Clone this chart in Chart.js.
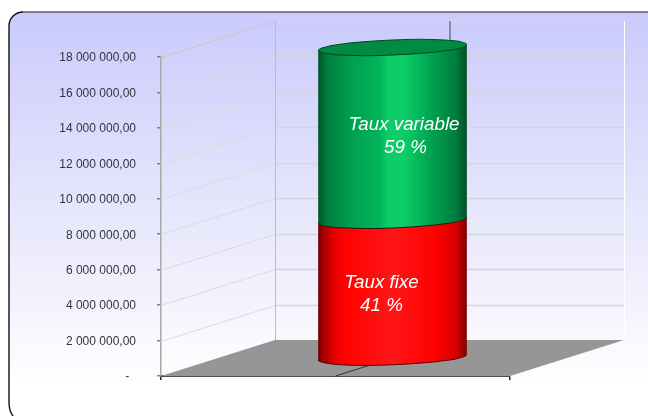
<!DOCTYPE html>
<html>
<head>
<meta charset="utf-8">
<style>html,body{margin:0;padding:0;background:#fff;overflow:hidden}canvas{display:block}</style>
<script src="https://cdn.jsdelivr.net/npm/chart.js@4"></script>
</head>
<body>
<canvas id="c" width="648" height="416"></canvas>
<script>
const categories = [""];
const tauxFixe = [7760000];
const tauxVariable = [9760000];
const yTicks = [0, 2000000, 4000000, 6000000, 8000000, 10000000, 12000000, 14000000, 16000000, 18000000];
const yTickLabels = ["-  ", "2 000 000,00", "4 000 000,00", "6 000 000,00", "8 000 000,00", "10 000 000,00", "12 000 000,00", "14 000 000,00", "16 000 000,00", "18 000 000,00"];
const labelFixe = ["Taux fixe", "41 %"];
const labelVariable = ["Taux variable", "59 %"];

const DX = 114, DY = -36, BAR_W = 148, RY = 7.6, SHEAR = -0.0385;

function barGradient(chart, stops) {
  const a = chart.chartArea;
  if (!a) return stops[0][1];
  const cx = (a.left + a.right) / 2;
  const g = chart.ctx.createLinearGradient(cx - BAR_W / 2, 0, cx + BAR_W / 2, 0);
  stops.forEach(s => g.addColorStop(s[0], s[1]));
  return g;
}
const redStops = [[0, "#700000"], [0.03, "#a40000"], [0.1, "#e20000"], [0.18, "#ff0000"], [0.5, "#ff1616"], [0.8, "#ff0000"], [0.93, "#d80000"], [1, "#800000"]];
const greenStops = [[0, "#00562b"], [0.05, "#007a3c"], [0.22, "#00a050"], [0.41, "#02b45a"], [0.47, "#0ccd68"], [0.58, "#0ccd68"], [0.75, "#00a552"], [0.93, "#007c3e"], [1, "#004f28"]];

const scene = {
  id: "scene",
  beforeDraw(chart) {
    const c = chart.ctx;
    c.save();
    c.fillStyle = "#fff";
    c.fillRect(0, 0, 648, 416);
    const g = c.createLinearGradient(0, 12, 0, 380);
    g.addColorStop(0, "#cacafc");
    g.addColorStop(0.5, "#e4e4fc");
    g.addColorStop(0.98, "#fdfdff");
    g.addColorStop(1, "#ffffff");
    c.beginPath();
    c.roundRect(9, 12, 700, 406, 14);
    c.fillStyle = g;
    c.fill();
    c.beginPath();
    c.moveTo(23, 12);
    c.lineTo(648, 12);
    c.strokeStyle = "#5f5f72";
    c.lineWidth = 1.6;
    c.stroke();
    c.beginPath();
    c.moveTo(13, 416);
    c.quadraticCurveTo(9, 411, 9, 402);
    c.lineTo(9, 26);
    c.arcTo(9, 12, 23, 12, 14);
    c.strokeStyle = "#111";
    c.lineWidth = 1.4;
    c.stroke();
    c.restore();
  },
  beforeDatasetsDraw(chart) {
    const c = chart.ctx, a = chart.chartArea, y = chart.scales.y;
    const L = a.left, R = a.right, B = a.bottom;
    c.save();
    c.fillStyle = "#969696";
    c.beginPath();
    c.moveTo(L, B); c.lineTo(L + DX, B + DY); c.lineTo(R + DX, B + DY); c.lineTo(R, B);
    c.closePath(); c.fill();
    yTicks.forEach((v, i) => {
      if (v === 0) return;
      const p = Math.round(y.getPixelForValue(v)) + 0.5;
      c.strokeStyle = i === yTicks.length - 1 ? "#c8c8bc" : "#dcdcd4";
      c.lineWidth = 1;
      c.beginPath(); c.moveTo(L, p); c.lineTo(L + DX, p + DY); c.stroke();
      c.strokeStyle = "#d6d6d6";
      c.lineWidth = 1.4;
      c.beginPath(); c.moveTo(L + DX, p + DY); c.lineTo(R + DX, p + DY); c.stroke();
    });
    c.lineWidth = 1;
    c.strokeStyle = "#bcbcbc";
    c.beginPath(); c.moveTo(L + DX + 0.5, a.top + DY); c.lineTo(L + DX + 0.5, B + DY); c.stroke();
    c.strokeStyle = "#ffffff";
    c.beginPath(); c.moveTo(R + DX + 0.5, a.top + DY); c.lineTo(R + DX + 0.5, B + DY); c.stroke();
    const mid = (L + R) / 2;
    c.strokeStyle = "#44445a";
    c.beginPath(); c.moveTo(mid + DX + 0.5, a.top + DY); c.lineTo(mid + DX + 0.5, B + DY); c.stroke();
    c.strokeStyle = "#333";
    c.beginPath(); c.moveTo(mid, B); c.lineTo(mid + DX, B + DY); c.stroke();
    c.restore();
    c.save();
    c.translate(DX / 2, DY / 2);
    c.transform(1, SHEAR, 0, 1, 0, -SHEAR * mid);
  },
  afterDatasetsDraw(chart) {
    const c = chart.ctx;
    const red = chart.getDatasetMeta(0).data[0];
    const green = chart.getDatasetMeta(1).data[0];
    const x = red.x, r = BAR_W / 2;
    const redFill = barGradient(chart, redStops), greenFill = barGradient(chart, greenStops);
    c.fillStyle = redFill;
    c.beginPath(); c.ellipse(x, red.base, r, RY, 0, 0, Math.PI * 2); c.fill();
    c.beginPath(); c.ellipse(x, red.base, r, RY, 0, 0, Math.PI);
    c.strokeStyle = "#5a0000"; c.lineWidth = 1;
    c.stroke();
    c.fillStyle = greenFill;
    c.beginPath(); c.ellipse(x, green.base, r, RY, 0, 0, Math.PI * 2); c.fill();
    c.beginPath(); c.ellipse(x, green.base, r, RY, 0, 0, Math.PI);
    c.strokeStyle = "#2a1a10"; c.lineWidth = 1;
    c.stroke();
    c.beginPath(); c.ellipse(x, green.y, r, RY, 0, 0, Math.PI * 2);
    c.fillStyle = "#008a42"; c.fill();
    c.strokeStyle = "#004a24"; c.lineWidth = 1; c.stroke();
    c.restore();
    c.save();
    c.fillStyle = "#ffffff";
    c.font = "italic 18.8px 'Liberation Sans', Arial, sans-serif";
    c.textAlign = "center";
    c.textBaseline = "middle";
    const bx = x + DX / 2;
    const my = chart.scales.y;
    const ly = v => my.getPixelForValue(v) + DY / 2;
    c.fillText(labelVariable[0], bx + 11.5, ly(tauxFixe[0] + tauxVariable[0] / 2) - 9);
    c.fillText(labelVariable[1], bx + 13, ly(tauxFixe[0] + tauxVariable[0] / 2) + 14);
    c.fillText(labelFixe[0], bx - 11, ly(tauxFixe[0] / 2) - 6);
    c.fillText(labelFixe[1], bx - 11, ly(tauxFixe[0] / 2) + 17);
    c.restore();
  }
};

new Chart(document.getElementById("c"), {
  type: "bar",
  data: {
    labels: categories,
    datasets: [
      { label: "Taux fixe", data: tauxFixe, stack: "s", barThickness: BAR_W, borderWidth: 0,
        backgroundColor: ctx => barGradient(ctx.chart, redStops) },
      { label: "Taux variable", data: tauxVariable, stack: "s", barThickness: BAR_W, borderWidth: 0,
        backgroundColor: ctx => barGradient(ctx.chart, greenStops) }
    ]
  },
  options: {
    responsive: false,
    animation: false,
    devicePixelRatio: 1,
    layout: { padding: { left: 0, right: 138, top: 57, bottom: 36 } },
    plugins: { legend: { display: false }, tooltip: { enabled: false } },
    scales: {
      x: {
        stacked: true,
        afterFit: s => { s.height = 4; },
        border: { display: true, color: "#505050", width: 2 },
        grid: { display: true, drawOnChartArea: false, drawTicks: true, tickLength: 4, color: "#222222", lineWidth: 1.5 },
        ticks: { display: false }
      },
      y: {
        stacked: true,
        min: 0,
        max: 18000000,
        afterFit: s => { s.width = 161; },
        afterBuildTicks: s => { s.ticks = yTicks.map(v => ({ value: v })); },
        border: { display: true, color: "#a8a8a8", width: 1.5 },
        grid: { display: true, drawOnChartArea: false, drawTicks: true, tickLength: 4, color: "#808080", lineWidth: 1.5 },
        ticks: {
          autoSkip: false,
          padding: 21,
          labelOffset: 1,
          color: "#333340",
          font: { family: "'Liberation Sans', Arial, sans-serif", size: 12 },
          callback: v => yTickLabels[yTicks.indexOf(v)]
        }
      }
    }
  },
  plugins: [scene]
});
</script>
</body>
</html>
